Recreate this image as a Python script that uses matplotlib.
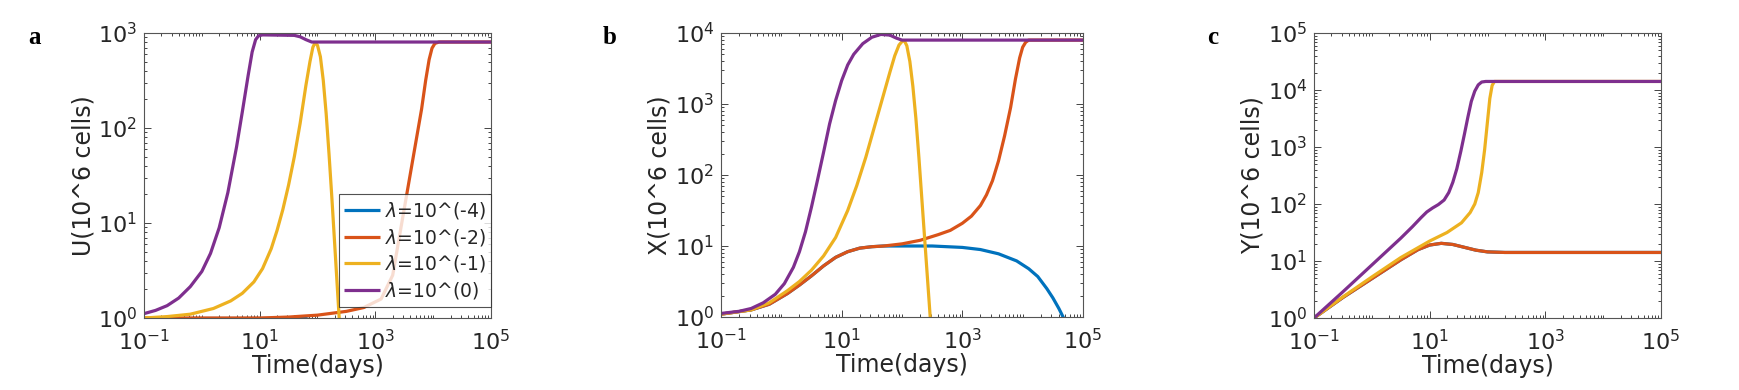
import numpy as np
import matplotlib
matplotlib.use("Agg")
import matplotlib.pyplot as plt
from matplotlib.ticker import LogLocator, NullFormatter

# ---------------- data (log10 time, log10 value) ----------------
labels = [r"$\lambda$=10^(-4)", r"$\lambda$=10^(-2)", r"$\lambda$=10^(-1)", r"$\lambda$=10^(0)"]
colors = ["#0072BD", "#D95319", "#EDB120", "#7E2F8E"]

# Panel a: U
U_blue_t = [-1, 1.8, 2.2, 2.6]
U_blue_v = [-0.005, -0.005, -0.1, -0.3]
U_orange_t = [-1, 1.0, 1.5, 2.0, 2.5, 2.8, 3.1, 3.3, 3.5, 3.6, 3.7, 3.8, 3.87, 3.93, 3.98, 4.03, 4.1, 5]
U_orange_v = [0.0, 0.0, 0.01, 0.03, 0.07, 0.11, 0.2, 0.45, 1.15, 1.5, 1.85, 2.2, 2.5, 2.72, 2.84, 2.89, 2.905, 2.905]
U_yellow_t = [-1, -0.6, -0.2, 0.2, 0.5, 0.7, 0.9, 1.05, 1.2, 1.3, 1.4, 1.5, 1.6, 1.7, 1.8, 1.87, 1.92,
              1.96, 2.0, 2.05, 2.1, 2.15, 2.2, 2.25, 2.3, 2.35, 2.4]
U_yellow_v = [0, 0.015, 0.04, 0.1, 0.18, 0.26, 0.38, 0.52, 0.73, 0.92, 1.14, 1.4, 1.7, 2.05, 2.45, 2.7, 2.85,
              2.9, 2.87, 2.75, 2.5, 2.15, 1.72, 1.25, 0.75, 0.25, -0.25]
U_purple_t = [-1, -0.8, -0.6, -0.4, -0.2, 0.0, 0.15, 0.3, 0.45, 0.6, 0.7, 0.8, 0.87, 0.93, 0.98, 1.05,
              1.6, 1.7, 1.8, 1.9, 5]
U_purple_v = [0.046, 0.08, 0.13, 0.21, 0.33, 0.49, 0.68, 0.95, 1.32, 1.8, 2.17, 2.55, 2.8, 2.93, 2.97, 2.98,
              2.975, 2.96, 2.93, 2.905, 2.905]

# Panel b: X
X_blue_t = [-1, -0.5, -0.2, 0.1, 0.3, 0.5, 0.7, 0.9, 1.1, 1.3, 1.5, 1.7, 2.5, 3.0, 3.3, 3.6, 3.9, 4.1,
            4.25, 4.4, 4.5, 4.6, 4.67, 4.75]
X_blue_v = [0.04, 0.1, 0.18, 0.33, 0.45, 0.58, 0.72, 0.84, 0.92, 0.97, 0.99, 1.0, 1.0, 0.98, 0.95, 0.89,
            0.79, 0.68, 0.57, 0.4, 0.27, 0.12, 0.0, -0.15]
X_orange_t = [-1, -0.5, -0.2, 0.1, 0.3, 0.5, 0.7, 0.9, 1.1, 1.3, 1.5, 1.7, 2.0, 2.3, 2.6, 2.8, 3.0, 3.15,
              3.3, 3.4, 3.5, 3.6, 3.7, 3.8, 3.88, 3.95, 4.0, 4.05, 4.1, 5]
X_orange_v = [0.04, 0.1, 0.18, 0.33, 0.45, 0.58, 0.72, 0.84, 0.92, 0.97, 0.99, 1.0, 1.03, 1.08, 1.16, 1.22,
              1.32, 1.42, 1.57, 1.72, 1.92, 2.2, 2.55, 2.95, 3.35, 3.65, 3.8, 3.87, 3.9, 3.9]
X_yellow_t = [-1, -0.5, -0.2, 0.1, 0.3, 0.5, 0.7, 0.9, 1.1, 1.25, 1.4, 1.5, 1.6, 1.7, 1.8, 1.88, 1.95, 2.0,
              2.04, 2.08, 2.13, 2.18, 2.23, 2.28, 2.33, 2.38, 2.43, 2.48]
X_yellow_v = [0.04, 0.1, 0.2, 0.37, 0.5, 0.66, 0.86, 1.12, 1.5, 1.85, 2.25, 2.55, 2.85, 3.15, 3.45, 3.68,
              3.83, 3.88, 3.89, 3.82, 3.6, 3.25, 2.8, 2.25, 1.65, 1.05, 0.45, -0.15]
X_purple_t = [-1, -0.7, -0.5, -0.3, -0.1, 0.05, 0.2, 0.3, 0.4, 0.5, 0.6, 0.7, 0.8, 0.9, 1.0, 1.1, 1.2,
              1.35, 1.5, 1.65, 1.8, 1.9, 2.0, 2.1, 5]
X_purple_v = [0.05, 0.08, 0.12, 0.2, 0.32, 0.47, 0.7, 0.92, 1.2, 1.55, 1.93, 2.32, 2.72, 3.05, 3.33, 3.55,
              3.7, 3.85, 3.94, 3.98, 3.97, 3.93, 3.9, 3.9, 3.9]

# Panel c: Y
Y_blue_t = [-1, -0.5, 0, 0.5, 0.8, 1.0, 1.2, 1.4, 1.6, 1.8, 2.0, 2.3, 5]
Y_blue_v = [0, 0.36, 0.69, 1.02, 1.2, 1.28, 1.31, 1.29, 1.24, 1.19, 1.16, 1.15, 1.15]
Y_orange_t = [-1, -0.5, 0, 0.5, 0.8, 1.0, 1.2, 1.4, 1.6, 1.8, 2.0, 2.3, 5]
Y_orange_v = [0, 0.36, 0.69, 1.02, 1.2, 1.28, 1.31, 1.29, 1.24, 1.19, 1.16, 1.15, 1.15]
Y_yellow_t = [-1, -0.5, 0, 0.5, 1.0, 1.3, 1.55, 1.7, 1.78, 1.84, 1.9, 1.95, 2.0, 2.04, 2.08, 2.12, 5]
Y_yellow_v = [0, 0.37, 0.72, 1.06, 1.35, 1.5, 1.67, 1.85, 2.0, 2.2, 2.55, 2.95, 3.45, 3.85, 4.08, 4.15, 4.15]
Y_purple_t = [-1, -0.5, 0, 0.5, 0.7, 0.85, 0.95, 1.05, 1.15, 1.25, 1.33, 1.4, 1.47, 1.54, 1.6, 1.66, 1.72,
              1.78, 1.84, 1.9, 1.97, 5]
Y_purple_v = [0, 0.46, 0.93, 1.4, 1.6, 1.76, 1.86, 1.93, 1.99, 2.07, 2.2, 2.38, 2.62, 2.93, 3.22, 3.52, 3.8,
              3.98, 4.09, 4.14, 4.15, 4.15]

panels = [
    dict(letter="a", ylabel="U(10^6 cells)", ymax=1e3,
         series=[(U_blue_t, U_blue_v), (U_orange_t, U_orange_v), (U_yellow_t, U_yellow_v), (U_purple_t, U_purple_v)],
         rect=[144/1739, 72/390, 347/1739, 285/390], legend=True),
    dict(letter="b", ylabel="X(10^6 cells)", ymax=1e4,
         series=[(X_blue_t, X_blue_v), (X_orange_t, X_orange_v), (X_yellow_t, X_yellow_v), (X_purple_t, X_purple_v)],
         rect=[721/1739, 73/390, 362/1739, 284/390], legend=False),
    dict(letter="c", ylabel="Y(10^6 cells)", ymax=1e5,
         series=[(Y_blue_t, Y_blue_v), (Y_orange_t, Y_orange_v), (Y_yellow_t, Y_yellow_v), (Y_purple_t, Y_purple_v)],
         rect=[1314/1739, 72/390, 347/1739, 285/390], legend=False),
]
letter_x = [28/1739, 603/1739, 1207/1739]

fig = plt.figure(figsize=(17.39, 3.90), dpi=100)
axcol = "#262626"
for i, p in enumerate(panels):
    ax = fig.add_axes(p["rect"])
    for (t, v), c, lab in zip(p["series"], colors, labels):
        ax.plot(10 ** np.array(t), 10 ** np.array(v), color=c, lw=2.3, label=lab,
                solid_joinstyle="round", solid_capstyle="butt")
    ax.set_xscale("log")
    ax.set_yscale("log")
    ax.set_xlim(1e-1, 1e5)
    ax.set_ylim(1, p["ymax"])
    ax.set_xticks([1e-1, 1e1, 1e3, 1e5])
    ax.yaxis.set_major_locator(LogLocator(base=10, numticks=10))
    ax.xaxis.set_minor_locator(LogLocator(base=10, subs=np.arange(1, 10), numticks=50))
    ax.yaxis.set_minor_locator(LogLocator(base=10, subs=np.arange(2, 10), numticks=50))
    ax.xaxis.set_minor_formatter(NullFormatter())
    ax.yaxis.set_minor_formatter(NullFormatter())
    ax.tick_params(which="both", direction="in", top=True, right=True, colors=axcol,
                   labelsize=16, width=0.6)
    ax.tick_params(which="major", length=5)
    ax.tick_params(which="minor", length=2.5)
    ax.tick_params(axis="x", which="major", pad=8)
    ax.tick_params(axis="y", which="major", pad=5)
    for s in ax.spines.values():
        s.set_color("#555555")
        s.set_linewidth(0.8)
    ax.set_xlabel("Time(days)", fontsize=17, color=axcol, labelpad=0)
    ax.set_ylabel(p["ylabel"], fontsize=17, color=axcol, labelpad=2)
    if p["legend"]:
        leg = ax.legend(loc="lower right", bbox_to_anchor=(1.0, 0.04), borderaxespad=0,
                        fontsize=13.5, frameon=True, fancybox=False, handlelength=1.9,
                        handletextpad=0.25, labelspacing=0.3, borderpad=0.3)
        leg.get_frame().set_edgecolor("#262626")
        leg.get_frame().set_linewidth(0.8)
        for txt in leg.get_texts():
            txt.set_color(axcol)
    fig.text(letter_x[i], 1 - 38/390, p["letter"], fontsize=18, fontweight="bold",
             family="Liberation Serif", va="center", ha="left")

fig.savefig("out.png", dpi=100)
